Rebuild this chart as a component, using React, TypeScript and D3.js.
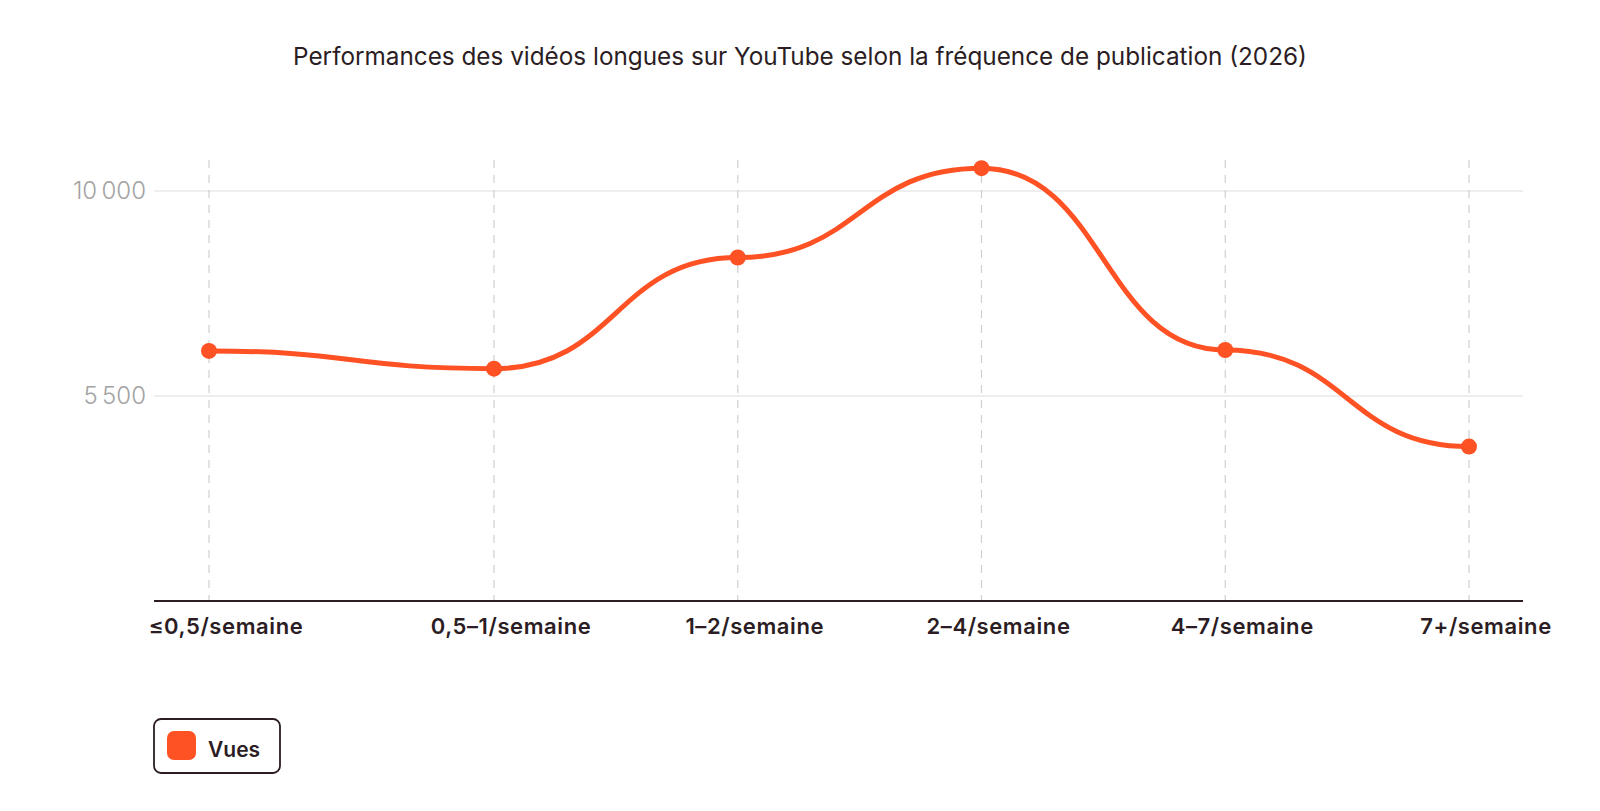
import React, { useRef, useEffect } from "react";
import * as d3 from "d3";

const title =
  "Performances des vidéos longues sur YouTube selon la fréquence de publication (2026)";
const categories = [
  "≤0,5/semaine",
  "0,5–1/semaine",
  "1–2/semaine",
  "2–4/semaine",
  "4–7/semaine",
  "7+/semaine",
];
const vues = [6490, 6100, 8540, 10500, 6510, 4390];
const yTicks = [1000, 5500, 10000];
const seriesName = "Vues";

const ORANGE = "#ff5224";
const INK = "#2b1d23";
const FONT = "Inter, 'Noto Sans', sans-serif";

const App: React.FC = () => {
  const ref = useRef<SVGSVGElement | null>(null);

  useEffect(() => {
    const svg = d3.select(ref.current);
    svg.selectAll("*").remove();

    const W = 1600;
    const H = 811;
    const left = 154;
    const right = 1523;
    const top = 160;
    const bottom = 601;

    svg.attr("width", W).attr("height", H).attr("viewBox", `0 0 ${W} ${H}`);

    // title
    svg
      .append("text")
      .attr("x", 800)
      .attr("y", 65)
      .attr("text-anchor", "middle")
      .style("font-family", FONT)
      .style("font-size", "24.3px")
      .style("font-weight", 400)
      .attr("fill", INK)
      .text(title);

    // the first step is wider than the others in the source chart
    const x = d3
      .scaleLinear()
      .domain([0, 1, categories.length - 1])
      .range([209, 494, 1469]);

    const y = d3.scaleLinear().domain([1000, 10680]).range([bottom, top]);

    // horizontal grid
    svg
      .append("g")
      .selectAll("line")
      .data(yTicks.filter((t) => t > 1000))
      .join("line")
      .attr("x1", left)
      .attr("x2", right)
      .attr("y1", (d) => y(d))
      .attr("y2", (d) => y(d))
      .attr("stroke", "#e8e8e8")
      .attr("stroke-width", 1.5);

    // vertical dashed grid
    svg
      .append("g")
      .selectAll("line")
      .data(categories)
      .join("line")
      .attr("x1", (_, i) => x(i))
      .attr("x2", (_, i) => x(i))
      .attr("y1", top)
      .attr("y2", bottom)
      .attr("stroke", "#cfcfcf")
      .attr("stroke-width", 1.2)
      .style("stroke-dasharray", "8,7");

    // y labels
    svg
      .append("g")
      .selectAll("text")
      .data(yTicks.filter((t) => t > 1000))
      .join("text")
      .attr("x", 146)
      .attr("y", (d) => y(d) + 8.5)
      .attr("text-anchor", "end")
      .style("font-family", FONT)
      .style("font-size", "24px")
      .style("font-weight", 300)
      .attr("fill", "#a3a3a3")
      .text((d) => d3.format(",")(d).replace(",", "\u2009"));

    // x axis baseline
    svg
      .append("line")
      .attr("x1", left)
      .attr("x2", right)
      .attr("y1", bottom)
      .attr("y2", bottom)
      .attr("stroke", INK)
      .attr("stroke-width", 2);

    // x labels
    svg
      .append("g")
      .selectAll("text")
      .data(categories)
      .join("text")
      .attr("x", (_, i) => x(i) + 17)
      .attr("y", 634)
      .attr("text-anchor", "middle")
      .style("font-family", FONT)
      .style("font-size", "22px")
      .style("font-weight", 600)
      .style("letter-spacing", "0.6px")
      .attr("fill", INK)
      .text((d) => d);

    const data = categories.map((c, i) => ({ i, v: vues[i] }));

    const line = d3
      .line<{ i: number; v: number }>()
      .x((d) => x(d.i))
      .y((d) => y(d.v))
      .curve(d3.curveBumpX);

    svg
      .append("path")
      .datum(data)
      .attr("fill", "none")
      .attr("stroke", ORANGE)
      .attr("stroke-width", 5)
      .attr("d", line);

    svg
      .append("g")
      .selectAll("circle")
      .data(data)
      .join("circle")
      .attr("cx", (d) => x(d.i))
      .attr("cy", (d) => y(d.v))
      .attr("r", 8)
      .attr("fill", ORANGE);

    // legend
    const legend = svg.append("g").attr("transform", "translate(154,719)");
    legend
      .append("rect")
      .attr("width", 126)
      .attr("height", 54)
      .attr("rx", 7)
      .attr("fill", "white")
      .attr("stroke", INK)
      .attr("stroke-width", 1.8);
    legend
      .append("rect")
      .attr("x", 13)
      .attr("y", 12)
      .attr("width", 29)
      .attr("height", 29)
      .attr("rx", 7)
      .attr("fill", ORANGE);
    legend
      .append("text")
      .attr("x", 54)
      .attr("y", 38)
      .style("font-family", FONT)
      .style("font-size", "21px")
      .style("font-weight", 600)
      .attr("fill", INK)
      .text(seriesName);
  }, []);

  return (
    <div style={{ position: "absolute", left: 0, top: 0 }}>
      <svg ref={ref} style={{ display: "block" }} />
    </div>
  );
};

export default App;
